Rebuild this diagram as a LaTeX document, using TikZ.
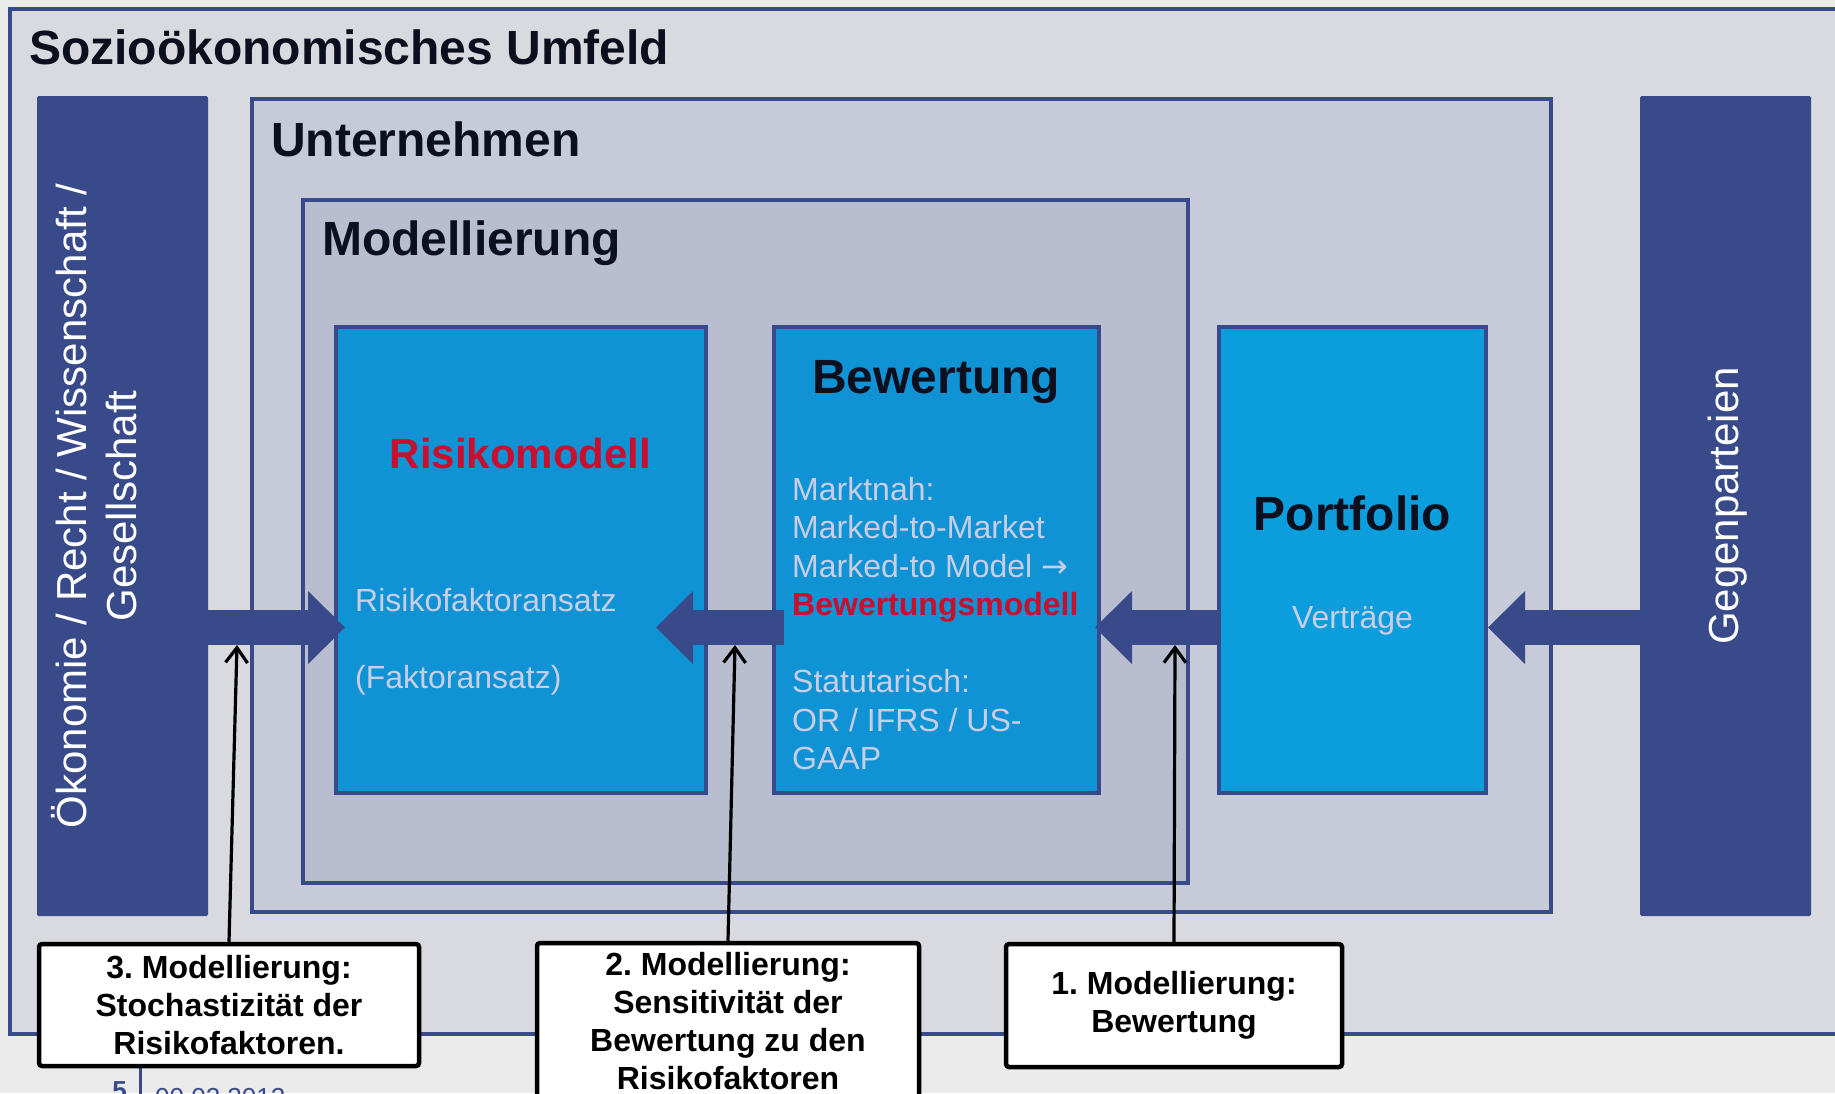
\documentclass[tikz,border=0pt]{standalone}
\usepackage{fontspec}
\setmainfont{Liberation Sans}
\newfontfamily\arrowfont{DejaVu Sans}
\usetikzlibrary{arrows.meta,positioning,calc}
\tikzset{>=Stealth}
\frenchspacing

\definecolor{darkblue}{HTML}{394A8A}
\definecolor{pagegray}{HTML}{EBEBEB}
\definecolor{umfeldgray}{HTML}{D9DAE0}
\definecolor{firmgray}{HTML}{C7CAD8}
\definecolor{modelgray}{HTML}{B8BDD0}
\definecolor{boxblue}{HTML}{0F93D4}
\definecolor{portblue}{HTML}{0B9DDC}
\definecolor{paletext}{HTML}{C9CEE6}
\definecolor{alertred}{HTML}{C8102E}
\definecolor{headblack}{HTML}{0C0F1E}

\newcommand{\headfont}{\fontsize{48}{58}\selectfont\bfseries}
\newcommand{\redheadfont}{\fontsize{42}{50}\selectfont\bfseries}
\newcommand{\sidefont}{\fontsize{42}{50}\selectfont}
\newcommand{\bodyfont}{\fontsize{32}{38.5}\selectfont}
\newcommand{\notefont}{\fontsize{32}{38}\selectfont\bfseries}
\newcommand{\footfont}{\fontsize{26}{31}\selectfont}

\begin{document}
\begin{tikzpicture}[x=1pt, y=-1pt,
    frame/.style={draw=darkblue, line width=4pt},
    area/.style={frame, anchor=north west, inner sep=0pt, outer sep=0pt},
    bar/.style={fill=darkblue, anchor=north west, inner sep=0pt, outer sep=0pt, rounded corners=1.5pt,
                minimum width=171pt, minimum height=820pt},
    title/.style={anchor=base west, inner sep=0pt, text=headblack, font=\headfont},
    pale/.style={text=paletext, font=\bodyfont, inner sep=0pt},
    sidetext/.style={text=white, rotate=90, align=center, font=\sidefont},
    note/.style={draw=black, line width=4.5pt, fill=white, rounded corners=3pt, align=center,
                 font=\notefont, inner sep=0pt},
    blockarrow/.style={draw=darkblue, line width=35pt,
                       -{Triangle[length=37pt 0 0, width=73pt 0 0, line width=0pt]}},
    pointer/.style={draw=black, line width=3.2pt,
                    -{Straight Barb[length=15pt 0 0, width=22pt 0 0]}}
  ]
    \clip (0,0) rectangle (1835,1093);
    \fill[pagegray] (0,0) rectangle (1835,1093);

    \draw[frame, fill=umfeldgray] (10,8.5) rectangle (1870,1034);
    \node[title] (umfeldtitle) at (29,64) {Sozioökonomisches Umfeld};

    \node[bar] (oeko)  at (37,96)   {};
    \node[bar] (gegen) at (1640,96) {};
    \node[sidetext] (oekotext)  at ($(oeko.center)+(-28,0)$)  {Ökonomie / Recht / Wissenschaft /\\Gesellschaft};
    \node[sidetext] (gegentext) at ($(gegen.center)+(2.5,0)$) {Gegenparteien};

    \node[area, fill=firmgray, minimum width=1299pt, minimum height=813pt] (firm) at (252,99) {};
    \node[title] (firmtitle) at (271,156) {Unternehmen};

    \node[area, fill=modelgray, minimum width=885pt, minimum height=683pt] (modell) at (303,200) {};
    \node[title] (modelltitle) at (322,255) {Modellierung};

    \node[area, fill=boxblue,  minimum width=370pt,   minimum height=466.5pt] (risk)   at (335.5,326.5) {};
    \node[area, fill=boxblue,  minimum width=324.5pt, minimum height=466.5pt] (bewert) at (774,326.5)   {};
    \node[area, fill=portblue, minimum width=267pt,   minimum height=466.5pt] (portf)  at (1219,326.5)  {};

    \node[anchor=base, inner sep=0pt, text=alertred, font=\redheadfont] (risktitle) at (520.5,468) {Risikomodell};
    \node[pale, align=left, anchor=north west] (risktext) at (355,588) {Risikofaktoransatz\\[38.5pt](Faktoransatz)};

    \node[anchor=base, inner sep=0pt, text=headblack, font=\headfont] (bewerttitle) at (936,393) {Bewertung};
    \node[pale, align=left, anchor=north west] (bewerttext) at (792,477)
      {Marktnah:\\Marked-to-Market\\Marked-to Model {\arrowfont →}\\{\color{alertred}\bfseries Bewertungsmodell}\\[38.5pt]Statutarisch:\\OR / IFRS / US-\\GAAP};

    \node[anchor=base, inner sep=0pt, text=headblack, font=\headfont] (portftitle) at (1352.5,530) {Portfolio};
    \node[pale, anchor=base] (portftext) at (1352.5,628) {Verträge};

    \coordinate (axis) at (0,627.5);
    \draw[blockarrow] (oeko.east |- axis) -- ($(risk.west |- axis)+(9.5,0)$);
    \draw[blockarrow] ($(bewert.west |- axis)+(10,0)$) -- ($(risk.east |- axis)+(-49.5,0)$);
    \draw[blockarrow] (portf.west |- axis) -- ($(bewert.east |- axis)+(-3.5,0)$);
    \draw[blockarrow] (gegen.west |- axis) -- ($(portf.east |- axis)+(2,0)$);

    \node[anchor=base east, inner sep=0pt, text=darkblue, font=\footfont\bfseries] (pageno) at (127,1099) {5};
    \draw[darkblue, line width=3pt] (140,1068) -- (140,1100);
    \node[anchor=base west, inner sep=0pt, text=darkblue, font=\footfont] (datum) at (155,1106) {00.02.2012};

    \node[note, minimum width=380pt, minimum height=122pt] (note3) at (229,1005)
      {3. Modellierung:\\Stochastizität der\\Risikofaktoren.};
    \node[note, minimum width=382pt, minimum height=157pt] (note2) at (728,1021.5)
      {2. Modellierung:\\Sensitivität der\\Bewertung zu den\\Risikofaktoren};
    \node[note, minimum width=336pt, minimum height=123pt] (note1) at (1174,1005.5)
      {1. Modellierung:\\Bewertung};

    \coordinate (tip3) at (237,645);
    \coordinate (tip2) at (735,645);
    \coordinate (tip1) at (1175,645);
    \draw[pointer] (note3.north) -- (tip3);
    \draw[pointer] (note2.north) -- (tip2);
    \draw[pointer] (note1.north) -- (tip1);
  \end{tikzpicture}
\end{document}
